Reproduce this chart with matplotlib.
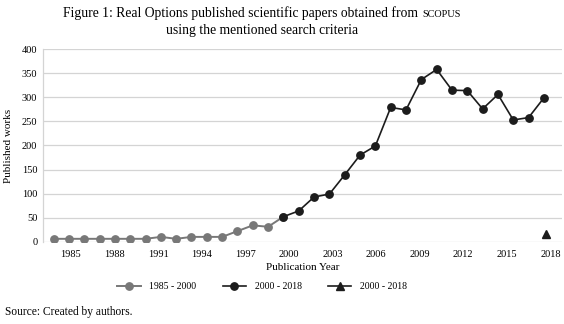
import matplotlib
matplotlib.use("Agg")
import matplotlib.pyplot as plt
from matplotlib.lines import Line2D

plt.rcParams["font.family"] = ["Liberation Serif", "DejaVu Serif"]

# ─── DATA ─────────────────────────────────────────────────────────────────────
early_values = [6, 6, 6, 6, 6, 6, 6, 10, 6, 10, 10, 10, 22, 34, 31, 52]
late_values = [52, 64, 93, 99, 139, 180, 199, 279, 274, 337, 358, 315, 314,
               276, 306, 253, 258, 299]
marker_value = [17]
tick_years = [1985, 1988, 1991, 1994, 1997, 2000, 2003, 2006, 2009, 2012, 2015, 2018]

early_x = list(range(len(early_values)))
late_x = list(range(len(early_values) - 1, len(early_values) - 1 + len(late_values)))
marker_x = [late_x[-1] + 0.15]
# category labels sit on a slightly different scale than the points
tick_pos = [1.13 + (y - 1985) * (31.3 / 33) for y in tick_years]

GRAY = "#787878"
BLACK = "#1c1c1c"

fig = plt.figure(figsize=(5.64, 3.24), dpi=100)
ax = fig.add_axes([0.076, 0.254, 0.921, 0.594])

ax.plot(early_x, early_values, color=GRAY, marker="o", ms=5.3, lw=1.4, zorder=3)
ax.plot(late_x, late_values, color=BLACK, marker="o", ms=5.3, lw=1.2, zorder=4)
ax.plot(marker_x, marker_value, color=BLACK, marker="^", ms=6, lw=0, zorder=4)

ax.set_ylim(0, 400)
ax.set_yticks(range(0, 401, 50))
ax.set_xlim(-0.7, 33.2)
ax.set_xticks(tick_pos)
ax.set_xticklabels([str(y) for y in tick_years])
ax.tick_params(axis="both", length=0, labelsize=7.5, pad=6)
ax.tick_params(axis="y", pad=4)
ax.grid(axis="y", color="#d4d4d4", lw=0.9)
ax.set_axisbelow(True)
for s in ["top", "right", "bottom"]:
    ax.spines[s].set_visible(False)
ax.spines["left"].set_color("#d4d4d4")
ax.spines["left"].set_linewidth(0.9)

ax.set_ylabel("Published works", fontsize=8, labelpad=6)
ax.set_xlabel("Publication Year", fontsize=8, labelpad=3)

handles = [
    Line2D([0], [0], color=GRAY, marker="o", ms=5.3, lw=1.4),
    Line2D([0], [0], color=BLACK, marker="o", ms=5.3, lw=1.2),
    Line2D([0], [0], color=BLACK, marker="^", ms=6, lw=1.2),
]
fig.legend(handles, ["1985 - 2000", "2000 - 2018", "2000 - 2018"],
           loc="center", bbox_to_anchor=(0.465, 0.115), ncol=3, frameon=False,
           fontsize=7, handlelength=2.4, columnspacing=2.7, handletextpad=0.9)

# title with small-caps "SCOPUS"
t1 = fig.text(0.112, 0.948, "Figure 1: Real Options published scientific papers obtained from",
              ha="left", va="baseline", fontsize=9.8)
fig.canvas.draw()
bb = t1.get_window_extent(renderer=fig.canvas.get_renderer())
fig.text((bb.x1 + 4) / fig.bbox.width, 0.948, "SCOPUS", ha="left", va="baseline",
         fontsize=7.4)
fig.text(0.465, 0.907, "using the mentioned search criteria", ha="center", va="center",
         fontsize=9.8)

fig.text(0.009, 0.02, "Source: Created by authors.", ha="left", va="bottom", fontsize=8.3)

fig.savefig("out.png", dpi=100)
